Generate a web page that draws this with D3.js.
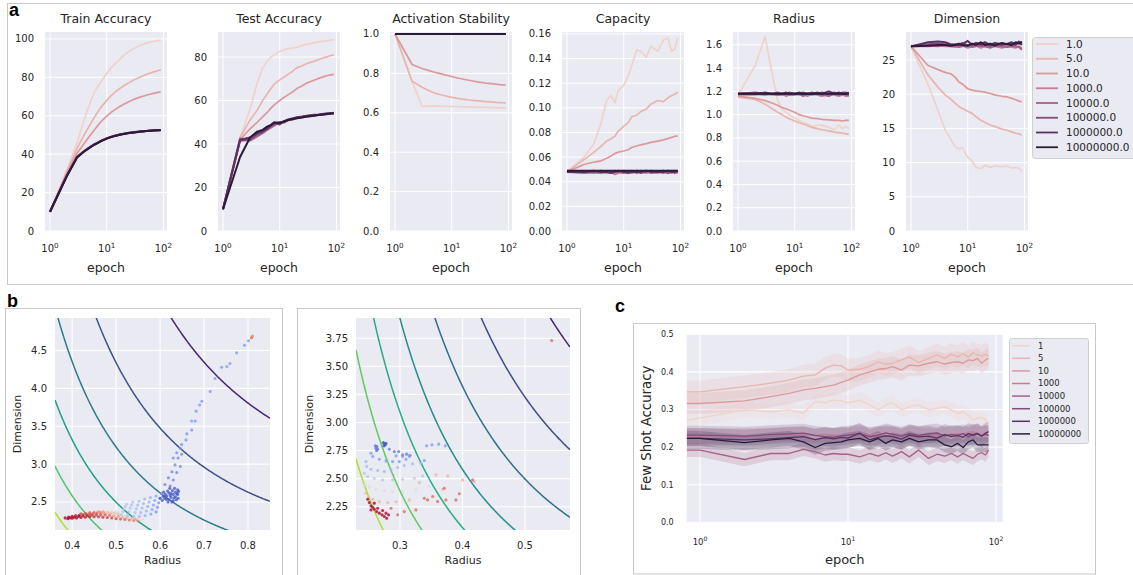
<!DOCTYPE html>
<html>
<head>
<meta charset="utf-8">
<script src="https://cdn.jsdelivr.net/npm/d3@7"></script>
<style>
  body { margin: 0; background: #fff; }
  svg text { font-family: "DejaVu Sans", sans-serif; fill: #262626; }
  .panel-label { font-family: "Liberation Sans", Arial, sans-serif; font-weight: bold; font-size: 18px; fill: #000; }
</style>
</head>
<body>
<svg id="fig" width="1133" height="575"></svg>
<script>

// ---------- data: panel a ----------
var levelNames = ["1.0", "5.0", "10.0", "1000.0", "10000.0", "100000.0", "1000000.0", "10000000.0"];
var levelNamesC = ["1", "5", "10", "1000", "10000", "100000", "1000000", "10000000"];
var palette = ["#efd2cb", "#e8b5ae", "#dc999b", "#c57c92", "#a85f89", "#84487c", "#593164", "#2a1b3b"];

var epochsA = [1, 2, 3, 4, 5, 6, 7, 8, 10, 12, 14, 17, 20, 25, 30, 40, 50, 60, 70, 80, 90];

var trainAcc = [
  [10, 32, 46, 58, 66, 72, 75.5, 78, 82, 85, 87, 89.5, 91.5, 93.5, 95, 96.8, 97.8, 98.4, 98.8, 99.1, 99.3],
  [10, 31, 43, 50, 55, 59, 62, 64.5, 68, 70.5, 72.3, 74.2, 75.6, 77.3, 78.6, 80.3, 81.5, 82.3, 83, 83.5, 83.9],
  [10, 30.5, 40.5, 45.5, 49.5, 52.5, 55, 57, 59.8, 61.8, 63.2, 64.8, 66, 67.4, 68.5, 69.8, 70.7, 71.3, 71.8, 72.2, 72.5],
  [10, 29.2, 38.7, 41.7, 43.6, 45.1, 46.1, 47, 48.3, 49.1, 49.7, 50.3, 50.7, 51.2, 51.5, 51.9, 52.1, 52.3, 52.4, 52.5, 52.6],
  [10, 29.1, 38.6, 41.6, 43.5, 45, 46, 47, 48.2, 49, 49.6, 50.2, 50.6, 51.1, 51.4, 51.8, 52, 52.2, 52.3, 52.4, 52.5],
  [10, 29, 38.5, 41.5, 43.5, 45, 46, 46.9, 48.2, 49, 49.6, 50.2, 50.6, 51.1, 51.4, 51.8, 52.1, 52.3, 52.4, 52.5, 52.6],
  [10, 29, 38.4, 41.4, 43.4, 44.9, 45.9, 46.9, 48.1, 49, 49.5, 50.1, 50.5, 51, 51.3, 51.7, 52, 52.2, 52.3, 52.4, 52.5],
  [10, 28.8, 38.3, 41.4, 43.4, 44.9, 45.9, 46.8, 48.1, 48.9, 49.5, 50.1, 50.5, 51, 51.3, 51.8, 52, 52.2, 52.4, 52.5, 52.6]
];

var testAcc = [
  [10, 43, 56, 68, 75, 78, 80, 81, 82.6, 83.3, 83.8, 84.2, 84.5, 85.3, 85.8, 86.5, 87, 87.3, 87.6, 87.8, 88],
  [10, 43, 51, 55.5, 60, 63, 65.5, 67.5, 69.5, 70.8, 72, 73.5, 75, 76, 77, 78, 79, 79.7, 80.2, 80.7, 81],
  [10, 42, 47, 50, 52.5, 54.5, 56.5, 58, 60, 61.5, 62.6, 64, 65.5, 66.8, 68, 69.3, 70.3, 71, 71.5, 71.8, 72],
  [10, 42, 42.5, 44, 45.5, 47, 48, 49, 49.5, 50.5, 50.8, 51.5, 52, 52.3, 52.8, 53.2, 53.5, 53.7, 53.9, 54, 54.2],
  [10, 42.5, 41.5, 43.5, 45, 46.5, 47.5, 48.5, 50, 49.8, 51, 51.2, 51.8, 52.5, 52.5, 53, 53.3, 53.6, 53.8, 53.9, 54],
  [10, 41.5, 42, 44.5, 45.5, 47.5, 48.5, 49.5, 49, 50.5, 51.3, 51.8, 52.3, 52.6, 53, 53.4, 53.6, 53.9, 54, 54.1, 54.3],
  [10, 42, 43, 45, 46, 47, 48.5, 49.5, 50, 50.2, 51, 51.6, 52.2, 52.5, 52.9, 53.2, 53.5, 53.8, 54, 54.2, 54.4],
  [10, 34, 43, 45.7, 46.5, 48, 48.8, 50, 49.5, 50.5, 51, 51.5, 51.8, 52.2, 52.6, 53, 53.4, 53.6, 53.8, 54, 54]
];

var actStab = [
  [1, 0.76, 0.632, 0.634, 0.635, 0.634, 0.633, 0.633, 0.632, 0.632, 0.631, 0.63, 0.63, 0.629, 0.628, 0.627, 0.626, 0.626, 0.625, 0.625, 0.625],
  [1, 0.76, 0.73, 0.712, 0.70, 0.694, 0.689, 0.685, 0.678, 0.674, 0.671, 0.668, 0.665, 0.662, 0.66, 0.657, 0.655, 0.653, 0.652, 0.651, 0.65],
  [1, 0.845, 0.825, 0.814, 0.806, 0.80, 0.795, 0.791, 0.784, 0.778, 0.774, 0.769, 0.765, 0.76, 0.756, 0.751, 0.748, 0.745, 0.743, 0.742, 0.741],
  [1, 1, 1, 1, 1, 1, 1, 1, 1, 1, 1, 1, 1, 1, 1, 1, 1, 1, 1, 1, 1],
  [1, 1, 1, 1, 1, 1, 1, 1, 1, 1, 1, 1, 1, 1, 1, 1, 1, 1, 1, 1, 1],
  [1, 1, 1, 1, 1, 1, 1, 1, 1, 1, 1, 1, 1, 1, 1, 1, 1, 1, 1, 1, 1],
  [1, 1, 1, 1, 1, 1, 1, 1, 1, 1, 1, 1, 1, 1, 1, 1, 1, 1, 1, 1, 1],
  [1, 1, 1, 1, 1, 1, 1, 1, 1, 1, 1, 1, 1, 1, 1, 1, 1, 1, 1, 1, 1]
];

var capacity = [
  [0.048, 0.060, 0.071, 0.088, 0.106, 0.110, 0.104, 0.114, 0.118, 0.126, 0.135, 0.147, 0.146, 0.141, 0.150, 0.146, 0.155, 0.157, 0.146, 0.148, 0.157],
  [0.048, 0.058, 0.064, 0.069, 0.073, 0.075, 0.077, 0.081, 0.085, 0.088, 0.093, 0.094, 0.097, 0.099, 0.103, 0.106, 0.105, 0.108, 0.110, 0.111, 0.113],
  [0.048, 0.054, 0.056, 0.057, 0.059, 0.061, 0.063, 0.064, 0.065, 0.066, 0.068, 0.069, 0.070, 0.071, 0.072, 0.073, 0.074, 0.075, 0.076, 0.077, 0.077],
  [0.048, 0.048, 0.047, 0.048, 0.047, 0.048, 0.046, 0.047, 0.048, 0.048, 0.047, 0.048, 0.049, 0.047, 0.048, 0.047, 0.049, 0.048, 0.047, 0.048, 0.047],
  [0.048, 0.047, 0.048, 0.047, 0.048, 0.047, 0.048, 0.048, 0.047, 0.048, 0.049, 0.047, 0.048, 0.049, 0.047, 0.048, 0.047, 0.048, 0.049, 0.047, 0.048],
  [0.049, 0.048, 0.048, 0.049, 0.048, 0.048, 0.049, 0.048, 0.049, 0.048, 0.048, 0.049, 0.047, 0.048, 0.049, 0.048, 0.049, 0.047, 0.048, 0.049, 0.048],
  [0.048, 0.048, 0.049, 0.048, 0.048, 0.047, 0.048, 0.049, 0.048, 0.047, 0.048, 0.048, 0.048, 0.049, 0.048, 0.048, 0.048, 0.049, 0.048, 0.048, 0.049],
  [0.049, 0.049, 0.049, 0.049, 0.049, 0.049, 0.049, 0.049, 0.049, 0.049, 0.049, 0.049, 0.049, 0.049, 0.049, 0.049, 0.049, 0.049, 0.049, 0.049, 0.049]
];

var radiusA = [
  [1.17, 1.42, 1.67, 1.35, 1.12, 1.05, 1.02, 1.0, 0.97, 0.95, 0.93, 0.92, 0.90, 0.91, 0.91, 0.89, 0.87, 0.91, 0.88, 0.90, 0.88],
  [1.15, 1.13, 1.09, 1.05, 1.02, 1.00, 0.98, 0.965, 0.945, 0.93, 0.92, 0.905, 0.89, 0.88, 0.87, 0.86, 0.85, 0.845, 0.84, 0.835, 0.83],
  [1.16, 1.14, 1.12, 1.10, 1.08, 1.06, 1.05, 1.04, 1.02, 1.00, 0.99, 0.98, 0.97, 0.965, 0.96, 0.955, 0.95, 0.95, 0.945, 0.95, 0.95],
  [1.17, 1.17, 1.18, 1.17, 1.17, 1.18, 1.16, 1.17, 1.18, 1.17, 1.17, 1.16, 1.18, 1.17, 1.16, 1.18, 1.17, 1.16, 1.17, 1.16, 1.17],
  [1.18, 1.18, 1.17, 1.18, 1.17, 1.17, 1.18, 1.17, 1.17, 1.18, 1.16, 1.18, 1.17, 1.18, 1.17, 1.16, 1.18, 1.17, 1.18, 1.17, 1.16],
  [1.18, 1.19, 1.18, 1.18, 1.19, 1.18, 1.18, 1.19, 1.18, 1.18, 1.19, 1.18, 1.19, 1.18, 1.19, 1.18, 1.19, 1.18, 1.19, 1.19, 1.18],
  [1.18, 1.18, 1.19, 1.18, 1.18, 1.18, 1.19, 1.18, 1.18, 1.19, 1.18, 1.18, 1.18, 1.19, 1.18, 1.20, 1.18, 1.19, 1.18, 1.18, 1.19],
  [1.18, 1.18, 1.18, 1.18, 1.18, 1.18, 1.18, 1.18, 1.18, 1.18, 1.18, 1.18, 1.18, 1.18, 1.18, 1.18, 1.18, 1.18, 1.18, 1.18, 1.18]
];

var dimensionA = [
  [27, 21.4, 17.6, 14.8, 13.5, 12.3, 12.0, 12.2, 10.8, 10.2, 9.3, 9.1, 9.6, 9.3, 9.5, 9.4, 9.5, 9.2, 9.3, 9.2, 8.7],
  [27, 22.8, 21, 19.9, 19.3, 18.7, 18.2, 17.9, 17.5, 17.2, 16.7, 16.2, 15.9, 15.5, 15.3, 14.9, 14.7, 14.5, 14.3, 14.2, 14.0],
  [27, 24.2, 23.6, 23.2, 23, 22.5, 21.8, 21.5, 20.8, 20.6, 20.5, 20.4, 20.3, 20.1, 19.9, 19.7, 19.6, 19.4, 19.2, 19, 18.9],
  [27, 27, 27.1, 27, 27, 26.9, 27, 27.1, 26.8, 27, 27.1, 26.8, 27, 26.9, 27, 26.8, 27, 26.9, 26.8, 27, 26.7],
  [27, 27.1, 27, 27.2, 27, 27.1, 26.9, 27, 27.2, 26.9, 27, 27.1, 27, 26.8, 27.1, 27, 26.9, 27.1, 27, 26.9, 26.5],
  [27, 27.3, 27.4, 27.3, 27.2, 27.3, 27.2, 27.5, 27.1, 27.3, 27.4, 27.2, 27.3, 27.1, 27.4, 27.2, 27.3, 27.4, 27.2, 27.6, 27.3],
  [27, 27.6, 27.7, 27.6, 27.3, 27.2, 27.4, 27.3, 27.8, 27.2, 27.5, 27.3, 27.6, 27.2, 27.5, 27.3, 27.4, 27.6, 27.3, 27.7, 27.2],
  [27, 27.1, 27.2, 27.2, 27.1, 27.2, 27.3, 27.2, 27.1, 27.4, 27.2, 27.6, 27.2, 27.4, 27.1, 27.5, 27.3, 27.2, 27.6, 27.4, 27.7]
];

var metricTitles = ["Train Accuracy", "Test Accuracy", "Activation Stability", "Capacity", "Radius", "Dimension"];
var metricTicks = [
  [0, 20, 40, 60, 80, 100],
  [0, 20, 40, 60, 80],
  [0, 0.2, 0.4, 0.6, 0.8, 1.0],
  [0, 0.02, 0.04, 0.06, 0.08, 0.10, 0.12, 0.14, 0.16],
  [0, 0.2, 0.4, 0.6, 0.8, 1.0, 1.2, 1.4, 1.6],
  [0, 5, 10, 15, 20, 25]
];
var metricMax = [103.6, 91.5, 1.01, 0.1616, 1.71, 29.1];

// ---------- data: panel b ----------
// capacity levels drawn as contours (alpha of a ball manifold)
var capacityLevels = [0.48, 0.62, 0.73, 0.83, 0.925, 1.01, 1.10, 1.20];

// [radius, dimension, tone]  tone: 0 = blue ... 1 = red
var b1Points = [
  [0.384, 2.29, 1], [0.392, 2.30, 1], [0.400, 2.31, 1], [0.408, 2.32, 0.98], [0.416, 2.325, 0.97], [0.424, 2.33, 0.96],
  [0.432, 2.34, 0.95], [0.440, 2.345, 0.93], [0.448, 2.35, 0.9], [0.456, 2.355, 0.87], [0.464, 2.36, 0.84], [0.472, 2.36, 0.8],
  [0.480, 2.36, 0.76], [0.488, 2.355, 0.72], [0.496, 2.35, 0.68], [0.504, 2.34, 0.65],
  [0.39, 2.28, 1], [0.40, 2.285, 1], [0.41, 2.29, 1], [0.42, 2.295, 1], [0.43, 2.30, 0.98], [0.44, 2.305, 0.97],
  [0.45, 2.305, 0.96], [0.46, 2.305, 0.95], [0.47, 2.30, 0.94], [0.48, 2.295, 0.93], [0.49, 2.29, 0.92], [0.50, 2.28, 0.9],
  [0.51, 2.275, 0.88], [0.52, 2.27, 0.86], [0.53, 2.262, 0.84], [0.54, 2.255, 0.82], [0.55, 2.25, 0.8],
  [0.395, 2.29, 1], [0.405, 2.30, 1], [0.415, 2.31, 1], [0.425, 2.315, 0.98], [0.435, 2.32, 0.97], [0.445, 2.325, 0.95],
  [0.455, 2.33, 0.93], [0.465, 2.33, 0.9], [0.475, 2.33, 0.87], [0.485, 2.325, 0.84], [0.495, 2.32, 0.8], [0.505, 2.31, 0.76],
  [0.515, 2.30, 0.72], [0.525, 2.29, 0.7], [0.535, 2.28, 0.68], [0.545, 2.27, 0.66],
  [0.42, 2.345, 0.9], [0.43, 2.35, 0.88], [0.44, 2.36, 0.85], [0.45, 2.365, 0.82], [0.46, 2.37, 0.78], [0.47, 2.375, 0.72],
  [0.48, 2.37, 0.55], [0.49, 2.375, 0.5], [0.50, 2.37, 0.5], [0.495, 2.34, 0.5], [0.505, 2.355, 0.48], [0.51, 2.33, 0.47],
  [0.52, 2.31, 0.5], [0.53, 2.30, 0.5], [0.54, 2.29, 0.52], [0.55, 2.28, 0.5], [0.56, 2.27, 0.5],
  [0.512, 2.33, 0.38], [0.515, 2.37, 0.38], [0.518, 2.41, 0.38], [0.521, 2.44, 0.38], [0.524, 2.47, 0.38],
  [0.526, 2.32, 0.35], [0.529, 2.37, 0.35], [0.532, 2.42, 0.35], [0.535, 2.46, 0.35], [0.538, 2.50, 0.35],
  [0.540, 2.31, 0.32], [0.543, 2.36, 0.32], [0.546, 2.41, 0.32], [0.549, 2.46, 0.32], [0.552, 2.51, 0.32],
  [0.553, 2.31, 0.3], [0.556, 2.36, 0.3], [0.559, 2.42, 0.3], [0.562, 2.48, 0.3], [0.565, 2.54, 0.3],
  [0.566, 2.32, 0.26], [0.569, 2.38, 0.26], [0.572, 2.44, 0.26], [0.575, 2.50, 0.26], [0.578, 2.56, 0.26],
  [0.579, 2.34, 0.22], [0.582, 2.40, 0.22], [0.585, 2.46, 0.22], [0.588, 2.52, 0.22], [0.591, 2.58, 0.22],
  [0.591, 2.37, 0.18], [0.594, 2.43, 0.18], [0.597, 2.49, 0.18], [0.600, 2.55, 0.18], [0.603, 2.61, 0.18],
  [0.605, 2.52, 0.04], [0.61, 2.55, 0.04], [0.615, 2.58, 0.04], [0.62, 2.53, 0.04], [0.625, 2.56, 0.04], [0.63, 2.60, 0.04],
  [0.635, 2.63, 0.04], [0.64, 2.60, 0.04], [0.64, 2.66, 0.04], [0.635, 2.57, 0.04], [0.628, 2.65, 0.04], [0.62, 2.62, 0.04],
  [0.612, 2.60, 0.04], [0.622, 2.68, 0.04], [0.633, 2.68, 0.04], [0.641, 2.55, 0.04], [0.618, 2.50, 0.04], [0.63, 2.52, 0.04],
  [0.60, 2.55, 0.04], [0.608, 2.63, 0.04], [0.625, 2.61, 0.04], [0.637, 2.53, 0.04],
  [0.614, 2.535, 0.03], [0.623, 2.585, 0.03], [0.632, 2.555, 0.03], [0.638, 2.61, 0.03], [0.617, 2.645, 0.03],
  [0.627, 2.50, 0.03], [0.607, 2.575, 0.03], [0.642, 2.64, 0.03],
  [0.611, 2.73, 0.15], [0.623, 2.71, 0.15], [0.619, 2.82, 0.15], [0.630, 2.79, 0.15], [0.627, 2.90, 0.15], [0.638, 2.89, 0.15],
  [0.634, 2.99, 0.17], [0.646, 2.97, 0.17], [0.630, 3.08, 0.17], [0.641, 3.08, 0.17], [0.638, 3.15, 0.17], [0.649, 3.13, 0.17],
  [0.646, 3.21, 0.18], [0.649, 3.26, 0.18], [0.659, 3.32, 0.18], [0.661, 3.40, 0.18], [0.672, 3.45, 0.18], [0.672, 3.57, 0.2],
  [0.680, 3.57, 0.2], [0.682, 3.70, 0.2], [0.690, 3.78, 0.2], [0.695, 3.83, 0.2], [0.714, 3.96, 0.2], [0.725, 4.13, 0.2],
  [0.740, 4.28, 0.2], [0.752, 4.29, 0.2], [0.759, 4.33, 0.2], [0.774, 4.47, 0.2], [0.792, 4.57, 0.2], [0.801, 4.63, 0.2],
  [0.808, 4.67, 0.85], [0.810, 4.69, 0.8]
];

var b2Points = [
  [0.2733, 2.821, 0.02], [0.2749, 2.809, 0.02], [0.2765, 2.801, 0.02], [0.2744, 2.792, 0.02], [0.2776, 2.815, 0.02],
  [0.2605, 2.792, 0.1], [0.2616, 2.771, 0.1], [0.2626, 2.750, 0.1], [0.2642, 2.762, 0.1], [0.2632, 2.786, 0.1],
  [0.2829, 2.762, 0.12], [0.2909, 2.741, 0.12], [0.2978, 2.741, 0.12], [0.3042, 2.712, 0.12], [0.3106, 2.718, 0.12], [0.3159, 2.709, 0.12],
  [0.3426, 2.792, 0.2], [0.3511, 2.801, 0.2], [0.3618, 2.807, 0.2], [0.3724, 2.792, 0.2], [0.3389, 2.661, 0.2],
  [0.2536, 2.726, 0.2], [0.2563, 2.697, 0.2], [0.2669, 2.673, 0.2], [0.2776, 2.658, 0.2], [0.2882, 2.652, 0.2],
  [0.2989, 2.652, 0.2], [0.3096, 2.673, 0.2], [0.3149, 2.697, 0.2], [0.3042, 2.697, 0.2], [0.2936, 2.703, 0.2],
  [0.2456, 2.652, 0.3], [0.2467, 2.608, 0.3], [0.2536, 2.584, 0.3], [0.2643, 2.572, 0.3], [0.2749, 2.563, 0.3],
  [0.2856, 2.578, 0.3], [0.2962, 2.599, 0.3], [0.3069, 2.617, 0.3], [0.3202, 2.632, 0.3], [0.3335, 2.637, 0.3],
  [0.2429, 2.548, 0.38], [0.2483, 2.519, 0.38], [0.2589, 2.504, 0.38], [0.2722, 2.489, 0.38], [0.2882, 2.489, 0.38],
  [0.3042, 2.495, 0.38], [0.3229, 2.504, 0.38], [0.3362, 2.525, 0.38],
  [0.2445, 2.445, 0.5], [0.2509, 2.424, 0.5], [0.2616, 2.406, 0.5], [0.2749, 2.394, 0.5], [0.2882, 2.385, 0.5],
  [0.3042, 2.385, 0.5], [0.3255, 2.400, 0.5], [0.3469, 2.430, 0.5],
  [0.2456, 2.370, 0.65], [0.2499, 2.335, 0.65], [0.2563, 2.317, 0.65], [0.2669, 2.296, 0.65], [0.2802, 2.287, 0.65],
  [0.2936, 2.296, 0.65], [0.3149, 2.311, 0.65], [0.3309, 2.465, 0.65], [0.3576, 2.534, 0.65], [0.3762, 2.525, 0.65],
  [0.4002, 2.489, 0.65], [0.4190, 2.474, 0.65], [0.3682, 2.406, 0.65],
  [0.3389, 2.326, 0.85], [0.3442, 2.311, 0.85], [0.3602, 2.296, 0.85], [0.3709, 2.415, 0.85], [0.3949, 2.365, 0.85],
  [0.3255, 2.222, 0.85], [0.3069, 2.207, 0.85], [0.2962, 2.178, 0.85], [0.2856, 2.237, 0.85], [0.3522, 2.341, 0.85],
  [0.3735, 2.311, 0.85], [0.4162, 2.489, 0.85], [0.3895, 2.311, 0.85],
  [0.2509, 2.287, 1], [0.2536, 2.258, 1], [0.2563, 2.246, 1], [0.2589, 2.228, 1], [0.2626, 2.207, 1], [0.2669, 2.193, 1],
  [0.2712, 2.178, 1], [0.2749, 2.163, 1], [0.2786, 2.148, 1], [0.2642, 2.237, 1], [0.2722, 2.216, 1], [0.2776, 2.193, 1],
  [0.2818, 2.178, 1], [0.2536, 2.222, 1], [0.2589, 2.282, 1], [0.2483, 2.317, 1],
  [0.5427, 3.729, 0.85]
];

// ---------- data: panel c ----------
var epochsC = [0, 1, 2, 3, 4, 5, 6, 7, 8, 9, 10, 12, 14, 16, 18, 20, 23, 26, 30, 35, 40, 45, 50, 55, 60, 65, 70, 75, 80, 85, 89];
var fewShot = [
  [0.272, 0.277, 0.299, 0.294, 0.299, 0.29, 0.321, 0.318, 0.325, 0.322, 0.318, 0.325, 0.312, 0.299, 0.312, 0.318, 0.299, 0.307, 0.312, 0.299, 0.303, 0.307, 0.299, 0.29, 0.294, 0.285, 0.272, 0.277, 0.279, 0.272, 0.263],
  [0.347, 0.347, 0.361, 0.37, 0.378, 0.389, 0.392, 0.41, 0.418, 0.416, 0.405, 0.407, 0.415, 0.427, 0.42, 0.423, 0.432, 0.44, 0.425, 0.436, 0.445, 0.436, 0.447, 0.44, 0.449, 0.439, 0.451, 0.445, 0.442, 0.447, 0.442],
  [0.316, 0.316, 0.323, 0.334, 0.343, 0.352, 0.356, 0.361, 0.365, 0.372, 0.378, 0.392, 0.40, 0.407, 0.409, 0.414, 0.405, 0.418, 0.416, 0.423, 0.427, 0.421, 0.425, 0.427, 0.423, 0.432, 0.43, 0.436, 0.423, 0.432, 0.436],
  [0.229, 0.229, 0.23, 0.232, 0.235, 0.233, 0.231, 0.234, 0.232, 0.23, 0.232, 0.235, 0.233, 0.236, 0.232, 0.234, 0.231, 0.235, 0.233, 0.23, 0.228, 0.234, 0.232, 0.236, 0.233, 0.239, 0.241, 0.236, 0.234, 0.238, 0.229],
  [0.192, 0.192, 0.167, 0.183, 0.183, 0.194, 0.188, 0.179, 0.183, 0.181, 0.181, 0.174, 0.183, 0.176, 0.185, 0.176, 0.188, 0.174, 0.192, 0.17, 0.181, 0.176, 0.183, 0.174, 0.183, 0.176, 0.17, 0.181, 0.185, 0.179, 0.192],
  [0.232, 0.232, 0.229, 0.233, 0.235, 0.237, 0.231, 0.228, 0.226, 0.23, 0.232, 0.236, 0.228, 0.232, 0.238, 0.234, 0.229, 0.236, 0.231, 0.235, 0.238, 0.229, 0.234, 0.231, 0.236, 0.228, 0.233, 0.237, 0.23, 0.234, 0.232],
  [0.223, 0.223, 0.219, 0.222, 0.225, 0.228, 0.22, 0.225, 0.222, 0.226, 0.224, 0.237, 0.219, 0.226, 0.23, 0.228, 0.221, 0.232, 0.227, 0.229, 0.224, 0.233, 0.228, 0.231, 0.226, 0.236, 0.232, 0.235, 0.229, 0.237, 0.241],
  [0.223, 0.223, 0.212, 0.219, 0.223, 0.214, 0.199, 0.21, 0.212, 0.214, 0.219, 0.223, 0.214, 0.223, 0.21, 0.219, 0.214, 0.223, 0.214, 0.219, 0.219, 0.206, 0.201, 0.21, 0.199, 0.214, 0.219, 0.206, 0.206, 0.206, 0.206]
];
// half width of the shaded confidence band per series
var fewShotBand = [0.02, 0.03, 0.028, 0.02, 0.018, 0.025, 0.028, 0.02];
var fewShotTicks = [0, 0.1, 0.2, 0.3, 0.4, 0.5];

// ---------- drawing ----------
var svg = d3.select("#fig");
var bg = "#eaeaf2";
var defs = svg.append("defs");
var clipCount = 0;

function addClip(x, y, w, h) {
  var id = "clip" + (clipCount++);
  defs.append("clipPath").attr("id", id).append("rect")
    .attr("x", x).attr("y", y).attr("width", w).attr("height", h);
  return "url(#" + id + ")";
}

// 10^k style labels
function powerLabel(g, x, y, k, size) {
  var t = g.append("text").attr("x", x).attr("y", y)
    .attr("text-anchor", "middle").style("font-size", size + "px");
  t.append("tspan").text("10");
  t.append("tspan").attr("dy", -size * 0.42).style("font-size", (size * 0.72) + "px").text(k);
}

// Frames around panels
svg.append("rect").attr("x", 7.5).attr("y", 3.5).attr("width", 1140).attr("height", 281)
  .attr("fill", "none").attr("stroke", "#c8c8c8");
svg.append("rect").attr("x", 5.5).attr("y", 308.5).attr("width", 277).attr("height", 290)
  .attr("fill", "none").attr("stroke", "#c8c8c8");
svg.append("rect").attr("x", 297.5).attr("y", 308.5).attr("width", 283).attr("height", 290)
  .attr("fill", "none").attr("stroke", "#c8c8c8");
svg.append("rect").attr("x", 633.5).attr("y", 323.5).attr("width", 462).attr("height", 250.5)
  .attr("fill", "none").attr("stroke", "#c8c8c8");

svg.append("text").attr("class", "panel-label").attr("x", 9).attr("y", 16).text("a");
svg.append("text").attr("class", "panel-label").attr("x", 7).attr("y", 307).text("b");
svg.append("text").attr("class", "panel-label").attr("x", 615).attr("y", 312).text("c");

// ----- panel a -----
var panelLefts = [45, 218, 390, 562, 733, 906];
var plotW = 122, plotTop = 32, plotBottom = 231;
var metricData = [trainAcc, testAcc, actStab, capacity, radiusA, dimensionA];
var tickFormats = [d3.format("d"), d3.format("d"), d3.format(".1f"), d3.format(".2f"), d3.format(".1f"), d3.format("d")];

metricData.forEach(function (series, m) {
  var left = panelLefts[m];
  var g = svg.append("g");
  var x = d3.scaleLog().domain([0.816, 115.7]).range([left, left + plotW]);
  var y = d3.scaleLinear().domain([0, metricMax[m]]).range([plotBottom, plotTop]);

  g.append("rect").attr("x", left).attr("y", plotTop).attr("width", plotW)
    .attr("height", plotBottom - plotTop).attr("fill", bg);

  g.selectAll("line.hgrid").data(metricTicks[m]).enter().append("line")
    .attr("x1", left).attr("x2", left + plotW)
    .attr("y1", function (d) { return y(d); }).attr("y2", function (d) { return y(d); })
    .attr("stroke", "#fff").attr("stroke-width", 1);
  g.selectAll("line.vgrid").data([1, 10, 100]).enter().append("line")
    .attr("x1", function (d) { return x(d); }).attr("x2", function (d) { return x(d); })
    .attr("y1", plotTop).attr("y2", plotBottom)
    .attr("stroke", "#fff").attr("stroke-width", 1);

  g.selectAll("text.ytick").data(metricTicks[m]).enter().append("text")
    .attr("x", left - 11).attr("y", function (d) { return y(d); })
    .attr("dy", "0.35em").attr("text-anchor", "end")
    .style("font-size", "10px").text(function (d) { return tickFormats[m](d); });

  [1, 10, 100].forEach(function (v, k) { powerLabel(g, x(v), 252, k, 10); });

  g.append("text").attr("x", left + plotW / 2).attr("y", 271.5).attr("text-anchor", "middle")
    .style("font-size", "12.5px").text("epoch");
  g.append("text").attr("x", left + plotW / 2).attr("y", 23).attr("text-anchor", "middle")
    .style("font-size", "12.5px").text(metricTitles[m]);

  var line = d3.line()
    .x(function (d, i) { return x(epochsA[i]); })
    .y(function (d) { return y(d); });
  var clip = addClip(left, plotTop - 1, plotW, plotBottom - plotTop + 2);
  g.append("g").attr("clip-path", clip).selectAll("path").data(series).enter().append("path")
    .attr("d", line).attr("fill", "none")
    .attr("stroke", function (d, i) { return palette[i]; })
    .attr("stroke-width", function (d, i) { return i > 2 ? 2 : 1.7; })
    .attr("stroke-linejoin", "round");
});

// legend a
var legA = svg.append("g");
legA.append("rect").attr("x", 1032.5).attr("y", 37.5).attr("width", 112).attr("height", 121)
  .attr("rx", 3).attr("fill", bg).attr("stroke", "#cfcfcf");
levelNames.forEach(function (name, i) {
  var yy = 44 + i * 14.75;
  legA.append("line").attr("x1", 1036).attr("x2", 1058).attr("y1", yy).attr("y2", yy)
    .attr("stroke", palette[i]).attr("stroke-width", 1.8);
  legA.append("text").attr("x", 1066).attr("y", yy).attr("dy", "0.35em")
    .style("font-size", "10.5px").text(name);
});

// ----- panel b -----
function erf(v) {
  var s = v < 0 ? -1 : 1;
  v = Math.abs(v);
  var t = 1 / (1 + 0.3275911 * v);
  var r = 1 - (((((1.061405429 * t - 1.453152027) * t) + 1.421413741) * t - 0.284496736) * t + 0.254829592) * t * Math.exp(-v * v);
  return s * r;
}
function ballInverseCapacity(u) {
  var Phi = 0.5 * (1 + erf(u / Math.SQRT2));
  var phi = Math.exp(-u * u / 2) / Math.sqrt(2 * Math.PI);
  return (u * u + 1) * Phi + u * phi;
}
// dimension on the contour alpha(R, D) = level
function contourDim(R, level) {
  var target = (1 + R * R) / level;
  var lo = -6, hi = 12;
  for (var k = 0; k < 60; k++) {
    var mid = (lo + hi) / 2;
    if (ballInverseCapacity(mid) < target) lo = mid; else hi = mid;
  }
  var u = (lo + hi) / 2;
  return u > 0 ? (u / R) * (u / R) : NaN;
}

var coolwarm = d3.scaleLinear().domain([0, 0.25, 0.5, 0.75, 1])
  .range(["#3b4cc0", "#8db0fe", "#dddcdc", "#f49a7b", "#b40426"])
  .interpolate(d3.interpolateLab);

function scatterPanel(opts) {
  var g = svg.append("g");
  var x = d3.scaleLinear().domain(opts.xDomain).range([opts.left, opts.right]);
  var y = d3.scaleLinear().domain(opts.yDomain).range([opts.bottom, opts.top]);

  g.append("rect").attr("x", opts.left).attr("y", opts.top)
    .attr("width", opts.right - opts.left).attr("height", opts.bottom - opts.top).attr("fill", bg);
  g.selectAll("line.h").data(opts.yTicks).enter().append("line")
    .attr("x1", opts.left).attr("x2", opts.right)
    .attr("y1", function (d) { return y(d); }).attr("y2", function (d) { return y(d); })
    .attr("stroke", "#fff").attr("stroke-width", 1.1);
  g.selectAll("line.v").data(opts.xTicks).enter().append("line")
    .attr("x1", function (d) { return x(d); }).attr("x2", function (d) { return x(d); })
    .attr("y1", opts.top).attr("y2", opts.bottom)
    .attr("stroke", "#fff").attr("stroke-width", 1.1);

  g.selectAll("text.xt").data(opts.xTicks).enter().append("text")
    .attr("x", function (d) { return x(d); }).attr("y", 548.5).attr("text-anchor", "middle")
    .style("font-size", "10px").text(function (d) { return d3.format(".1f")(d); });
  g.selectAll("text.yt").data(opts.yTicks).enter().append("text")
    .attr("x", opts.left - 8).attr("y", function (d) { return y(d); }).attr("dy", "0.35em")
    .attr("text-anchor", "end").style("font-size", "10px")
    .text(function (d) { return opts.yFormat(d); });
  g.append("text").attr("x", (opts.left + opts.right) / 2).attr("y", 564)
    .attr("text-anchor", "middle").style("font-size", "11px").text("Radius");
  g.append("text").attr("transform", "translate(" + opts.labelX + "," + ((opts.top + opts.bottom) / 2) + ") rotate(-90)")
    .attr("text-anchor", "middle").style("font-size", "11px").text("Dimension");

  var clip = addClip(opts.left, opts.top, opts.right - opts.left, opts.bottom - opts.top);
  var inner = g.append("g").attr("clip-path", clip);

  var radii = d3.range(0, 301).map(function (i) {
    return opts.xDomain[0] + (opts.xDomain[1] - opts.xDomain[0]) * i / 300;
  });
  var n = opts.levels.length;
  opts.levels.forEach(function (lev, j) {
    var pts = radii.map(function (R) { return [R, contourDim(R, lev)]; })
      .filter(function (p) { return isFinite(p[1]); });
    inner.append("path")
      .attr("d", d3.line().x(function (p) { return x(p[0]); }).y(function (p) { return y(Math.min(p[1], 50)); })(pts))
      .attr("fill", "none")
      .attr("stroke", d3.interpolateViridis(0.1 + 0.78 * j / (n - 1)))
      .attr("stroke-width", 1.5);
  });

  inner.selectAll("circle").data(opts.points).enter().append("circle")
    .attr("cx", function (d) { return x(d[0]); })
    .attr("cy", function (d) { return y(d[1]); })
    .attr("r", 1.55)
    .attr("fill", function (d) { return coolwarm(d[2]); })
    .attr("fill-opacity", 0.8);
}

scatterPanel({
  left: 55, right: 270, top: 318, bottom: 530,
  xDomain: [0.361, 0.85], yDomain: [2.13, 4.93],
  xTicks: [0.4, 0.5, 0.6, 0.7, 0.8], yTicks: [2.5, 3.0, 3.5, 4.0, 4.5],
  yFormat: d3.format(".1f"), labelX: 21,
  levels: capacityLevels.slice(0, 6), points: b1Points
});
scatterPanel({
  left: 356, right: 570, top: 318, bottom: 530,
  xDomain: [0.2296, 0.572], yDomain: [2.043, 3.93],
  xTicks: [0.3, 0.4, 0.5], yTicks: [2.25, 2.5, 2.75, 3.0, 3.25, 3.5, 3.75],
  yFormat: d3.format(".2f"), labelX: 313,
  levels: capacityLevels.slice(1), points: b2Points
});

// ----- panel c -----
(function () {
  var left = 686.7, right = 1002.7, top = 334.3, bottom = 522.3;
  var g = svg.append("g");
  var xDom = [0.813, 111];
  var x = d3.scaleLog().domain(xDom).range([left, right]);
  var y = d3.scaleLinear().domain([0, 0.5]).range([bottom, top]);
  var xe = function (e) { return x(Math.max(e, xDom[0])); };

  g.append("rect").attr("x", left).attr("y", top).attr("width", right - left)
    .attr("height", bottom - top).attr("fill", bg);
  g.selectAll("line.h").data(fewShotTicks).enter().append("line")
    .attr("x1", left).attr("x2", right)
    .attr("y1", function (d) { return y(d); }).attr("y2", function (d) { return y(d); })
    .attr("stroke", "#fff").attr("stroke-width", 1.1);
  g.selectAll("line.v").data([1, 10, 100]).enter().append("line")
    .attr("x1", function (d) { return x(d); }).attr("x2", function (d) { return x(d); })
    .attr("y1", top).attr("y2", bottom)
    .attr("stroke", "#fff").attr("stroke-width", 1.1);

  g.selectAll("text.yt").data(fewShotTicks).enter().append("text")
    .attr("x", left - 13).attr("y", function (d) { return y(d); }).attr("dy", "0.35em")
    .attr("text-anchor", "end").style("font-size", "8px").text(function (d) { return d3.format(".1f")(d); });
  [1, 10, 100].forEach(function (v, k) { powerLabel(g, x(v), 545, k, 8.5); });
  g.append("text").attr("x", (left + right) / 2).attr("y", 563.5).attr("text-anchor", "middle")
    .style("font-size", "13px").text("epoch");
  g.append("text").attr("transform", "translate(651," + ((top + bottom) / 2) + ") rotate(-90)")
    .attr("text-anchor", "middle").style("font-size", "13.3px").text("Few Shot Accuracy");

  var clip = addClip(left, top, right - left, bottom - top);
  var inner = g.append("g").attr("clip-path", clip);

  var area = function (i) {
    return d3.area()
      .x(function (d, k) { return xe(epochsC[k]); })
      .y0(function (d) { return y(d - fewShotBand[i]); })
      .y1(function (d) { return y(d + fewShotBand[i]); });
  };
  fewShot.forEach(function (s, i) {
    inner.append("path").attr("d", area(i)(s))
      .attr("fill", palette[i]).attr("fill-opacity", 0.2).attr("stroke", "none");
  });
  var line = d3.line()
    .x(function (d, k) { return xe(epochsC[k]); })
    .y(function (d) { return y(d); });
  fewShot.forEach(function (s, i) {
    inner.append("path").attr("d", line(s)).attr("fill", "none")
      .attr("stroke", palette[i]).attr("stroke-width", 1.3).attr("stroke-linejoin", "round");
  });

  var leg = g.append("g");
  leg.append("rect").attr("x", 1009.5).attr("y", 338.5).attr("width", 79).attr("height", 105)
    .attr("rx", 2).attr("fill", bg).attr("stroke", "#d0d0d0");
  levelNamesC.forEach(function (name, i) {
    var yy = 345.7 + i * 12.6;
    leg.append("line").attr("x1", 1012).attr("x2", 1030).attr("y1", yy).attr("y2", yy)
      .attr("stroke", palette[i]).attr("stroke-width", 1.5);
    leg.append("text").attr("x", 1038).attr("y", yy).attr("dy", "0.35em")
      .style("font-size", "8.5px").text(name);
  });
})();

</script>
</body>
</html>
